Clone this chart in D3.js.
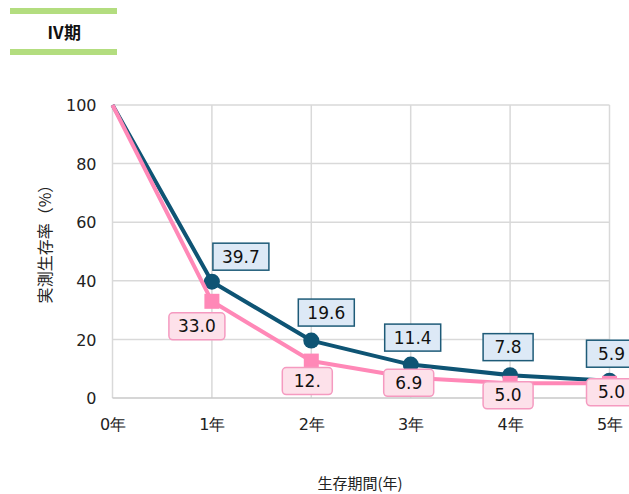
<!DOCTYPE html>
<html><head><meta charset="utf-8">
<script src="https://cdn.jsdelivr.net/npm/d3@7"></script>
<style>
html,body{margin:0;padding:0;background:#fff;}
svg{display:block;}
</style></head>
<body>
<svg id="chart" width="629" height="494"></svg>
<script>
// ---- data ----
const categories = ["0年","1年","2年","3年","4年","5年"];
const navyValues = [100, 39.7, 19.6, 11.4, 7.8, 5.9];
const pinkValues = [100, 33.0, 12.6, 6.9, 5.0, 5.0];
const navyLabels = ["", "39.7", "19.6", "11.4", "7.8", "5.9"];
const pinkLabels = ["", "33.0", "12.", "6.9", "5.0", "5.0"];
const yTicks = [0, 20, 40, 60, 80, 100];
const titleText = "Ⅳ期";
const yTitle = "実測生存率（%）";
const xTitle = "生存期間(年)";

(function(){
// ---- layout ----
const svg = d3.select("#chart");
const font = "Verdana, 'DejaVu Sans', sans-serif";
const pL = 112.5, pR = 609.5, pT = 105, pB = 398;
const x = d3.scalePoint().domain(categories).range([pL, pR]);
const y = d3.scaleLinear().domain([0, 100]).range([pB, pT]);

// title
svg.append("rect").attr("x",10).attr("y",8).attr("width",107).attr("height",6).attr("fill","#b3dd7f");
svg.append("rect").attr("x",10).attr("y",49).attr("width",107).attr("height",6).attr("fill","#b3dd7f");
svg.append("text").attr("x",64).attr("y",39).attr("text-anchor","middle")
  .attr("font-family","'Noto Sans CJK JP', sans-serif").attr("font-weight","bold").attr("font-size",17)
  .attr("fill","#111").text(titleText);

// grid
const g = svg.append("g");
g.selectAll(".hg").data(yTicks.filter(d=>d>0)).join("line")
  .attr("x1",pL).attr("x2",pR).attr("y1",d=>y(d)).attr("y2",d=>y(d))
  .attr("stroke","#d9d9d9").attr("stroke-width",1.5);
g.selectAll(".vg").data(categories).join("line")
  .attr("x1",d=>x(d)).attr("x2",d=>x(d)).attr("y1",pT).attr("y2",pB)
  .attr("stroke","#d9d9d9").attr("stroke-width",1.5);
g.append("line").attr("x1",pL).attr("x2",pR).attr("y1",pB).attr("y2",pB)
  .attr("stroke","#c8c8c8").attr("stroke-width",1.5);

// axes via d3
const yAxis = svg.append("g").attr("transform",`translate(${pL-16},0)`)
  .call(d3.axisLeft(y).tickValues(yTicks).tickSize(0).tickPadding(0));
yAxis.select(".domain").remove();
yAxis.selectAll("text").attr("font-family",font).attr("font-size",16).attr("fill","#222").attr("dy","0.35em");

const xAxis = svg.append("g").attr("transform",`translate(0,${pB+21})`)
  .call(d3.axisBottom(x).tickSize(0).tickPadding(0));
xAxis.select(".domain").remove();
xAxis.selectAll("text").attr("font-family",font).attr("font-size",16).attr("fill","#222").attr("dy","0.71em");

// axis titles
svg.append("text").attr("transform",`translate(51,240) rotate(-90)`).attr("text-anchor","middle")
  .attr("font-family","'Noto Sans CJK JP', sans-serif").attr("font-size",16).attr("fill","#222").text(yTitle);
svg.append("text").attr("x",360).attr("y",489).attr("text-anchor","middle")
  .attr("font-family","'Noto Sans CJK JP', sans-serif").attr("font-size",15).attr("fill","#222").text(xTitle);

// lines
const navy = "#0e5474", pink = "#ff88b7";
const line = d3.line().x((d,i)=>x(categories[i])).y(d=>y(d));
svg.append("path").datum(navyValues).attr("d",line).attr("fill","none").attr("stroke",navy).attr("stroke-width",4).attr("stroke-linejoin","round");
svg.selectAll(".nm").data(navyValues.map((v,i)=>({v,i})).filter(d=>d.i>0)).join("circle")
  .attr("cx",d=>x(categories[d.i])).attr("cy",d=>y(d.v)).attr("r",8).attr("fill",navy);
svg.append("path").datum(pinkValues).attr("d",line).attr("fill","none").attr("stroke",pink).attr("stroke-width",4).attr("stroke-linejoin","round");
svg.selectAll(".pm").data(pinkValues.map((v,i)=>({v,i})).filter(d=>d.i>0)).join("rect")
  .attr("x",d=>x(categories[d.i])-7.5).attr("y",d=>y(d.v)-7.5).attr("width",15).attr("height",15).attr("fill",pink);

// labels (manual nudges as in reference)
const navyNudge = [[0,0],[29,-25],[15,-28],[2,-27],[-2,-28],[2,-27]];
const pinkNudge = [[0,0],[-15,25],[-4,20],[-2,5],[-2,12],[2,9]];
function labels(vals, texts, nudge, fill, stroke, rx){
  const gg = svg.append("g");
  vals.forEach((v,i)=>{
    if(!texts[i]) return;
    const cx = x(categories[i]) + nudge[i][0];
    const cy = y(v) + nudge[i][1];
    const w = texts[i].length <= 3 ? 50 : 56, h = 27;
    gg.append("rect").attr("x",cx-w/2).attr("y",cy-h/2).attr("width",w).attr("height",h)
      .attr("rx",rx).attr("fill",fill).attr("stroke",stroke).attr("stroke-width",1.5);
    gg.append("text").attr("x",cx).attr("y",cy).attr("dy","0.36em").attr("text-anchor","middle")
      .attr("font-family",font).attr("font-size",17).attr("fill","#111").text(texts[i]);
  });
}
labels(navyValues, navyLabels, navyNudge, "#dde9f6", "#1e5b78", 0);
labels(pinkValues, pinkLabels, pinkNudge, "#fde1ea", "#f59ac0", 4);
})();
</script>
</body></html>
